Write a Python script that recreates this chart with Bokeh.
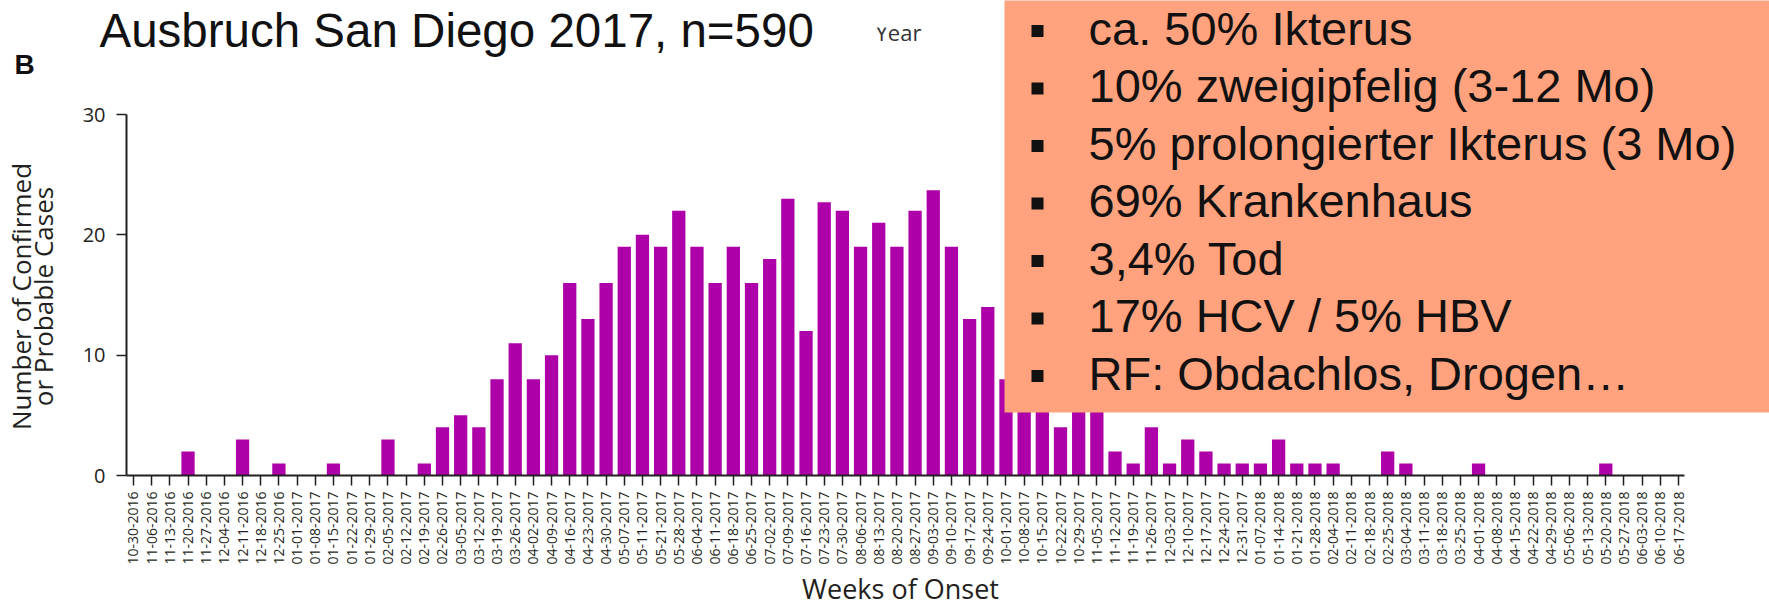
from math import pi
from bokeh.plotting import figure
from bokeh.layouts import column
from bokeh.models import Range1d, FixedTicker, Label, BoxAnnotation
from bokeh.embed import file_html
from bokeh.resources import INLINE

# ---------------- data ----------------
weeks = [
    "10-30-2016", "11-06-2016", "11-13-2016", "11-20-2016", "11-27-2016", "12-04-2016",
    "12-11-2016", "12-18-2016", "12-25-2016", "01-01-2017", "01-08-2017", "01-15-2017",
    "01-22-2017", "01-29-2017", "02-05-2017", "02-12-2017", "02-19-2017", "02-26-2017",
    "03-05-2017", "03-12-2017", "03-19-2017", "03-26-2017", "04-02-2017", "04-09-2017",
    "04-16-2017", "04-23-2017", "04-30-2017", "05-07-2017", "05-11-2017", "05-21-2017",
    "05-28-2017", "06-04-2017", "06-11-2017", "06-18-2017", "06-25-2017", "07-02-2017",
    "07-09-2017", "07-16-2017", "07-23-2017", "07-30-2017", "08-06-2017", "08-13-2017",
    "08-20-2017", "08-27-2017", "09-03-2017", "09-10-2017", "09-17-2017", "09-24-2017",
    "10-01-2017", "10-08-2017", "10-15-2017", "10-22-2017", "10-29-2017", "11-05-2017",
    "11-12-2017", "11-19-2017", "11-26-2017", "12-03-2017", "12-10-2017", "12-17-2017",
    "12-24-2017", "12-31-2017", "01-07-2018", "01-14-2018", "01-21-2018", "01-28-2018",
    "02-04-2018", "02-11-2018", "02-18-2018", "02-25-2018", "03-04-2018", "03-11-2018",
    "03-18-2018", "03-25-2018", "04-01-2018", "04-08-2018", "04-15-2018", "04-22-2018",
    "04-29-2018", "05-06-2018", "05-13-2018", "05-20-2018", "05-27-2018", "06-03-2018",
    "06-10-2018", "06-17-2018",
]

cases = [
    0, 0, 0, 2, 0, 0, 3, 0, 1, 0,
    0, 1, 0, 0, 3, 0, 1, 4, 5, 4,
    8, 11, 8, 10, 16, 13, 16, 19, 20, 19,
    22, 19, 16, 19, 16, 18, 23, 12, 22.7, 22,
    19, 21, 19, 22, 23.7, 19, 13, 14, 8, 10,
    12, 4, 11, 9, 2, 1, 4, 1, 3, 2,
    1, 1, 1, 3, 1, 1, 1, 0, 0, 2,
    1, 0, 0, 0, 1, 0, 0, 0, 0, 0,
    0, 1, 0, 0, 0, 0,
]

y_ticks = [0, 10, 20, 30]

title_text = "Ausbruch San Diego 2017, n=590"
y_title = ["Number of Confirmed", "or Probable Cases"]
x_title = "Weeks of Onset"
bullets = [
    "ca. 50% Ikterus",
    "10% zweigipfelig (3-12 Mo)",
    "5% prolongierter Ikterus (3 Mo)",
    "69% Krankenhaus",
    "3,4% Tod",
    "17% HCV / 5% HBV",
    "RF: Obdachlos, Drogen\u2026",
]

# ---------------- layout (page pixels) ----------------
W, H = 1769, 608
FL, FR, FT, FB = 126, 1684, 114, 475      # plot frame edges
X0, X1 = -0.385, 85.33
Y0, Y1 = 0, 30
SHIFT = 0.38   # label anchor offset (fraction of font size) for "alphabetic" baseline

AX = "#231F20"
BAR = "#AD00A8"
INK = "#111111"

# ---------------- chart ----------------
p = figure(
    width=W, height=H, title=None,
    x_range=Range1d(X0, X1), y_range=Range1d(Y0, Y1),
    output_backend="svg", toolbar_location=None,
    min_border_left=FL, min_border_right=W - FR,
    min_border_top=FT, min_border_bottom=H - FB,
)
p.outline_line_color = None
p.grid.visible = False
p.background_fill_color = "white"
p.border_fill_color = "white"

p.vbar(x=list(range(len(cases))), top=cases, width=0.73, fill_color=BAR, line_color=None)

xa = p.xaxis[0]
xa.ticker = FixedTicker(ticks=list(range(len(weeks))))
xa.major_label_overrides = {i: w for i, w in enumerate(weeks)}
xa.major_label_orientation = pi / 2
xa.major_tick_out = 10
xa.major_tick_in = 0
xa.minor_tick_line_color = None
xa.major_label_standoff = 6
xa.major_label_text_font = "Open Sans"
xa.major_label_text_font_size = "14px"
xa.major_label_text_color = AX
xa.axis_line_color = AX
xa.axis_line_width = 2
xa.major_tick_line_color = AX
xa.major_tick_line_width = 1.5

ya = p.yaxis[0]
ya.ticker = FixedTicker(ticks=y_ticks)
ya.major_tick_out = 10
ya.major_tick_in = 0
ya.minor_tick_line_color = None
ya.major_label_standoff = 11
ya.major_label_text_font = "Open Sans"
ya.major_label_text_font_size = "20px"
ya.major_label_text_color = AX
ya.axis_line_color = AX
ya.axis_line_width = 2
ya.major_tick_line_color = AX
ya.major_tick_line_width = 1.5

# ---------------- overlay (texts and info box), page-pixel coordinates ----------------
q = figure(
    width=W, height=H, title=None,
    x_range=Range1d(0, W), y_range=Range1d(H, 0),
    output_backend="svg", toolbar_location=None,
    x_axis_location=None, y_axis_location=None,
    min_border=0, min_border_left=0, min_border_right=0,
    min_border_top=0, min_border_bottom=0,
    margin=(-H, 0, 0, 0),
)
q.outline_line_color = None
q.grid.visible = False
q.background_fill_alpha = 0
q.border_fill_alpha = 0

for fig in (p, q):
    if "frame_align" in fig.properties():
        fig.frame_align = False


def text_at(x, baseline, text, size, font, **kw):
    q.add_layout(Label(x=x, y=baseline - SHIFT * size, text=text, text_font=font,
                       text_font_size=f"{size}px", text_baseline="alphabetic", **kw))


for txt, px in zip(y_title, [20, 42]):
    q.add_layout(Label(x=px, y=296, text=txt, angle=pi / 2,
                       text_align="center", text_baseline="middle",
                       text_font="Open Sans", text_font_size="26px", text_color=AX))

text_at(900, 598, x_title, 27, "Open Sans", text_align="center", text_color=AX)
text_at(14, 75, "B", 28, "Liberation Sans", text_font_style="bold", text_color=INK)
text_at(99, 48.5, title_text, 47.5, "Liberation Sans", text_color=INK)
text_at(875, 40, "Year", 22, "Open Sans", text_color="#333333")
# the legend title is cropped at its top in the source figure
q.add_layout(BoxAnnotation(left=868, right=935, top=-10, bottom=27,
                           fill_color="white", fill_alpha=1.0, line_color=None,
                           level="overlay"))

q.add_layout(BoxAnnotation(left=1004, right=W + 10, top=-10, bottom=412,
                           fill_color="#FFA27D", fill_alpha=1.0, line_color=None,
                           level="annotation"))

B0, STEP = 45.5, 57.5
for i, t in enumerate(bullets):
    base = B0 + i * STEP
    c = base - 15
    q.add_layout(BoxAnnotation(left=1031, right=1043, top=c - 6, bottom=c + 6,
                               fill_color=INK, fill_alpha=1.0, line_color=None,
                               level="overlay"))
    text_at(1088, base, t, 47, "Liberation Sans", text_color=INK, level="overlay")

layout = column(p, q, spacing=0)
open("out.html", "w").write(file_html(layout, INLINE))
